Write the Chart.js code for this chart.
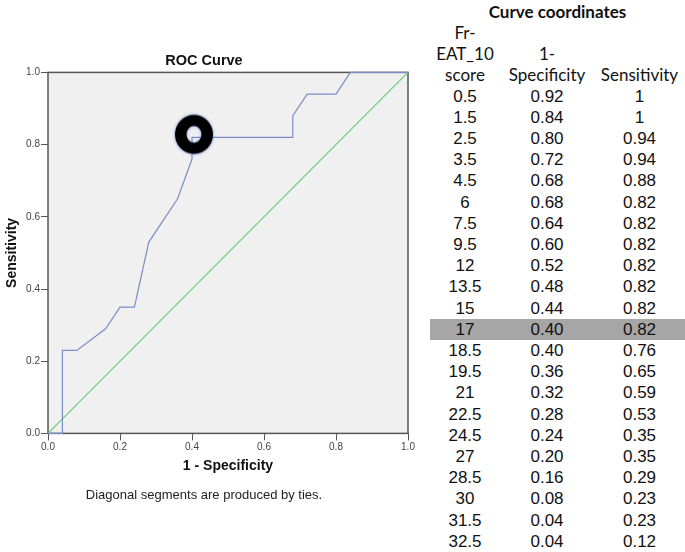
<!DOCTYPE html>
<html>
<head>
<meta charset="utf-8">
<script src="https://cdn.jsdelivr.net/npm/chart.js@4.4.0/dist/chart.umd.min.js"></script>
<style>
  html, body { margin: 0; padding: 0; background: #fff; }
  body { width: 685px; height: 552px; position: relative; overflow: hidden; }
  #chartBox { position: absolute; left: 0; top: 0; width: 420px; height: 510px; }
  #coords {
    position: absolute; left: 430px; top: 0.7px;
    border-collapse: collapse; table-layout: fixed;
    font-family: "Liberation Sans", Arial, sans-serif; font-size: 17px; color: #111;
  }
  #coords td { padding: 0; height: 21.2px; line-height: 21.2px; text-align: center; white-space: nowrap; }
  #coords .cap { font-family: Lato, "Liberation Sans", sans-serif; font-weight: bold; font-size: 17px; }
  #coords .head td { font-family: Lato, "Liberation Sans", sans-serif; vertical-align: bottom; height: 63.6px; }
  #coords tr.hl td { background: #a6a6a6; }
</style>
</head>
<body>
<div id="chartBox"><canvas id="roc" width="420" height="510"></canvas></div>
<table id="coords">
  <colgroup><col style="width:70px"><col style="width:94px"><col style="width:91px"></colgroup>
  <tbody id="coordsBody"></tbody>
</table>
<script>
// ========================
// DATA
// ========================
const scores = [0.5, 1.5, 2.5, 3.5, 4.5, 6, 7.5, 9.5, 12, 13.5, 15, 17, 18.5, 19.5, 21, 22.5, 24.5, 27, 28.5, 30, 31.5, 32.5];
const oneMinusSpec = [0.92, 0.84, 0.80, 0.72, 0.68, 0.68, 0.64, 0.60, 0.52, 0.48, 0.44, 0.40, 0.40, 0.36, 0.32, 0.28, 0.24, 0.20, 0.16, 0.08, 0.04, 0.04];
const sensitivity = [1, 1, 0.94, 0.94, 0.88, 0.82, 0.82, 0.82, 0.82, 0.82, 0.82, 0.82, 0.76, 0.65, 0.59, 0.53, 0.35, 0.35, 0.29, 0.23, 0.23, 0.12];
const cutoffScore = 17;

// ends of the plotted curve that are not rows of the table
const curveStartX = [0, 0.04];
const curveStartY = [0, 0];
const curveEndX = [1];
const curveEndY = [1];

const chanceX = [0, 1];
const chanceY = [0, 1];

// ========================
// TABLE
// ========================
const body = document.getElementById("coordsBody");
body.innerHTML =
  '<tr><td class="cap" colspan="3">Curve coordinates</td></tr>' +
  '<tr class="head"><td>Fr-<br>EAT_10<br>score</td><td>1-<br>Specificity</td><td>Sensitivity</td></tr>';
scores.forEach((s, i) => {
  const tr = document.createElement("tr");
  if (s === cutoffScore) tr.className = "hl";
  [String(s), oneMinusSpec[i].toFixed(2), String(sensitivity[i])].forEach((t) => {
    const td = document.createElement("td");
    td.textContent = t;
    tr.appendChild(td);
  });
  body.appendChild(tr);
});

// ========================
// CHART
// ========================
const curve = [];
curveStartX.forEach((x, i) => curve.push({ x, y: curveStartY[i] }));
for (let i = scores.length - 1; i >= 0; i--) curve.push({ x: oneMinusSpec[i], y: sensitivity[i] });
curveEndX.forEach((x, i) => curve.push({ x, y: curveEndY[i] }));

const chance = chanceX.map((x, i) => ({ x, y: chanceY[i] }));
const ci = scores.indexOf(cutoffScore);
const cutoffPoint = [{ x: oneMinusSpec[ci], y: sensitivity[ci] }];

// bold "O" ring marking the chosen cut-off (sits a little up-right of the point)
function makeRing() {
  const c = document.createElement("canvas");
  c.width = 54;
  c.height = 54;
  const g = c.getContext("2d");
  g.shadowColor = "rgba(70,120,210,0.9)";
  g.shadowBlur = 3;
  g.beginPath();
  g.ellipse(29, 24, 19, 19.5, 0, 0, Math.PI * 2);
  g.ellipse(29, 24, 7.5, 8.5, 0, 0, Math.PI * 2);
  g.fillStyle = "#000";
  g.fill("evenodd");
  return c;
}

const plotFrame = {
  id: "plotFrame",
  beforeDatasetsDraw(chart) {
    const { ctx, chartArea: a } = chart;
    ctx.save();
    ctx.fillStyle = "#f0f0f0";
    ctx.fillRect(a.left, a.top, a.width, a.height);
    ctx.strokeStyle = "#555";
    ctx.lineWidth = 1.5;
    ctx.strokeRect(a.left, a.top, a.width, a.height);
    ctx.restore();
  },
};

const FONT = "'Liberation Sans', Arial, sans-serif";
const axisTicks = { stepSize: 0.2, color: "#444", font: { family: FONT, size: 10 }, padding: 1, callback: (v) => v.toFixed(1) };
const axisGrid = { drawOnChartArea: false, drawTicks: true, tickLength: 7, color: "#555" };

new Chart(document.getElementById("roc").getContext("2d"), {
  type: "scatter",
  data: {
    datasets: [
      { data: cutoffPoint, pointStyle: makeRing(), pointRadius: 18, showLine: false, clip: false },
      { data: curve, showLine: true, borderColor: "#7b8dc8", borderWidth: 1.2, pointRadius: 0, clip: false },
      { data: chance, showLine: true, borderColor: "#6ccb78", borderWidth: 1.2, pointRadius: 0, clip: false },
    ],
  },
  options: {
    responsive: false,
    animation: false,
    events: [],
    layout: { autoPadding: false, padding: { left: 0, right: 12, top: 0, bottom: 0 } },
    plugins: {
      legend: { display: false },
      tooltip: { enabled: false },
      title: {
        display: true, text: "ROC Curve", color: "#111",
        font: { family: FONT, size: 14.5, weight: "bold" },
        padding: { top: 52, bottom: 3 },
      },
      subtitle: {
        display: true, position: "bottom", text: "Diagonal segments are produced by ties.", color: "#222",
        font: { family: FONT, size: 13 },
        padding: { top: 11, bottom: 7 },
      },
    },
    scales: {
      x: {
        type: "linear", min: 0, max: 1,
        ticks: axisTicks, grid: axisGrid, border: { display: false },
        title: { display: true, text: "1 - Specificity", color: "#111", font: { family: FONT, size: 14, weight: "bold" }, padding: { top: 0, bottom: 2 } },
        afterFit: (s) => { s.height = 43; },
      },
      y: {
        type: "linear", min: 0, max: 1,
        ticks: axisTicks, grid: axisGrid, border: { display: false },
        title: { display: true, text: "Sensitivity", color: "#111", font: { family: FONT, size: 14, weight: "bold" }, padding: { top: 4, bottom: 0 } },
        afterFit: (s) => { s.width = 48; },
      },
    },
  },
  plugins: [plotFrame],
});
</script>
</body>
</html>
